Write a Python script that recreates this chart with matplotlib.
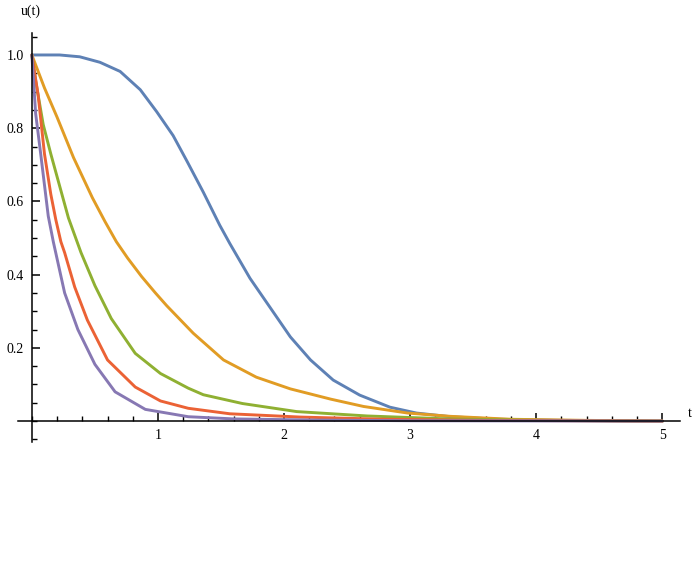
import matplotlib
matplotlib.use("Agg")
import matplotlib.pyplot as plt
from matplotlib.ticker import MultipleLocator

# values
t_blue = [0, 0.22, 0.38, 0.54, 0.70, 0.86, 0.99, 1.12, 1.23, 1.36, 1.49, 1.57, 1.73, 1.89,
          2.05, 2.21, 2.39, 2.6, 2.84, 3.05, 3.32, 3.7, 4.2, 5.0]
u_blue = [1.0, 1.0, 0.995, 0.98, 0.955, 0.905, 0.845, 0.78, 0.71, 0.625, 0.535, 0.485, 0.39, 0.31,
          0.23, 0.167, 0.112, 0.071, 0.038, 0.022, 0.012, 0.005, 0.002, 0.0]

t_orange = [0, 0.1, 0.2, 0.33, 0.48, 0.58, 0.67, 0.76, 0.87, 0.98, 1.07, 1.28, 1.52, 1.78,
            2.05, 2.37, 2.63, 2.98, 3.32, 3.8, 4.4, 5.0]
u_orange = [1.0, 0.91, 0.83, 0.72, 0.61, 0.545, 0.49, 0.445, 0.395, 0.35, 0.315, 0.24, 0.167, 0.12,
            0.088, 0.06, 0.04, 0.022, 0.013, 0.005, 0.002, 0.0]

t_green = [0, 0.03, 0.09, 0.15, 0.23, 0.29, 0.39, 0.5, 0.63, 0.82, 1.02, 1.24, 1.36, 1.67,
           2.1, 2.66, 3.3, 4.0, 5.0]
u_green = [1.0, 0.93, 0.81, 0.73, 0.63, 0.555, 0.46, 0.37, 0.28, 0.185, 0.13, 0.09, 0.072, 0.048,
           0.026, 0.014, 0.006, 0.002, 0.0]

t_red = [0, 0.05, 0.10, 0.15, 0.19, 0.23, 0.26, 0.34, 0.44, 0.6, 0.82, 1.02, 1.24, 1.57,
         2.13, 2.8, 3.6, 5.0]
u_red = [1.0, 0.89, 0.73, 0.62, 0.55, 0.49, 0.46, 0.366, 0.276, 0.167, 0.093, 0.055, 0.035, 0.02,
         0.011, 0.005, 0.002, 0.0]

t_purple = [0, 0.03, 0.07, 0.13, 0.17, 0.26, 0.365, 0.5, 0.66, 0.9, 1.24, 1.6, 2.2, 3.0, 5.0]
u_purple = [1.0, 0.84, 0.73, 0.56, 0.49, 0.35, 0.25, 0.155, 0.08, 0.032, 0.012, 0.006, 0.003, 0.001, 0.0]

series = [
    (t_blue, u_blue, "#5E81B5"),
    (t_orange, u_orange, "#E19C24"),
    (t_green, u_green, "#8FB032"),
    (t_red, u_red, "#EB6235"),
    (t_purple, u_purple, "#8778B3"),
]

plt.rcParams["font.family"] = ["Liberation Serif", "DejaVu Serif"]

fig = plt.figure(figsize=(7, 5.83), dpi=100)
ax = fig.add_axes([0.0257, 0.2419, 0.9457, 0.7015])

for t, u, c in series:
    ax.plot(t, u, color=c, lw=2.1, solid_joinstyle="round", solid_capstyle="round")

ax.set_xlim(-0.11, 5.14)
ax.set_ylim(-0.057, 1.06)

# axes crossing at the origin, Mathematica style
for side in ["top", "right"]:
    ax.spines[side].set_visible(False)
ax.spines["left"].set_position(("data", 0))
ax.spines["bottom"].set_position(("data", 0))
ax.spines["left"].set_linewidth(1.1)
ax.spines["bottom"].set_linewidth(1.1)

ax.set_xticks([1, 2, 3, 4, 5])
ax.set_yticks([0.2, 0.4, 0.6, 0.8, 1.0])
ax.set_yticklabels(["0.2", "0.4", "0.6", "0.8", "1.0"])
ax.xaxis.set_minor_locator(MultipleLocator(0.2))
ax.yaxis.set_minor_locator(MultipleLocator(0.05))
ax.tick_params(which="major", direction="in", length=6, width=1.1, labelsize=10, pad=6)
ax.tick_params(which="minor", direction="in", length=3.5, width=1.0)

ax.text(-0.01, 1.10, "u(t)", transform=ax.transData, ha="center", va="bottom", fontsize=10)
ax.text(5.2, 0.02, "t", transform=ax.transData, ha="left", va="center", fontsize=10, clip_on=False)

fig.savefig("out.png", dpi=100)
